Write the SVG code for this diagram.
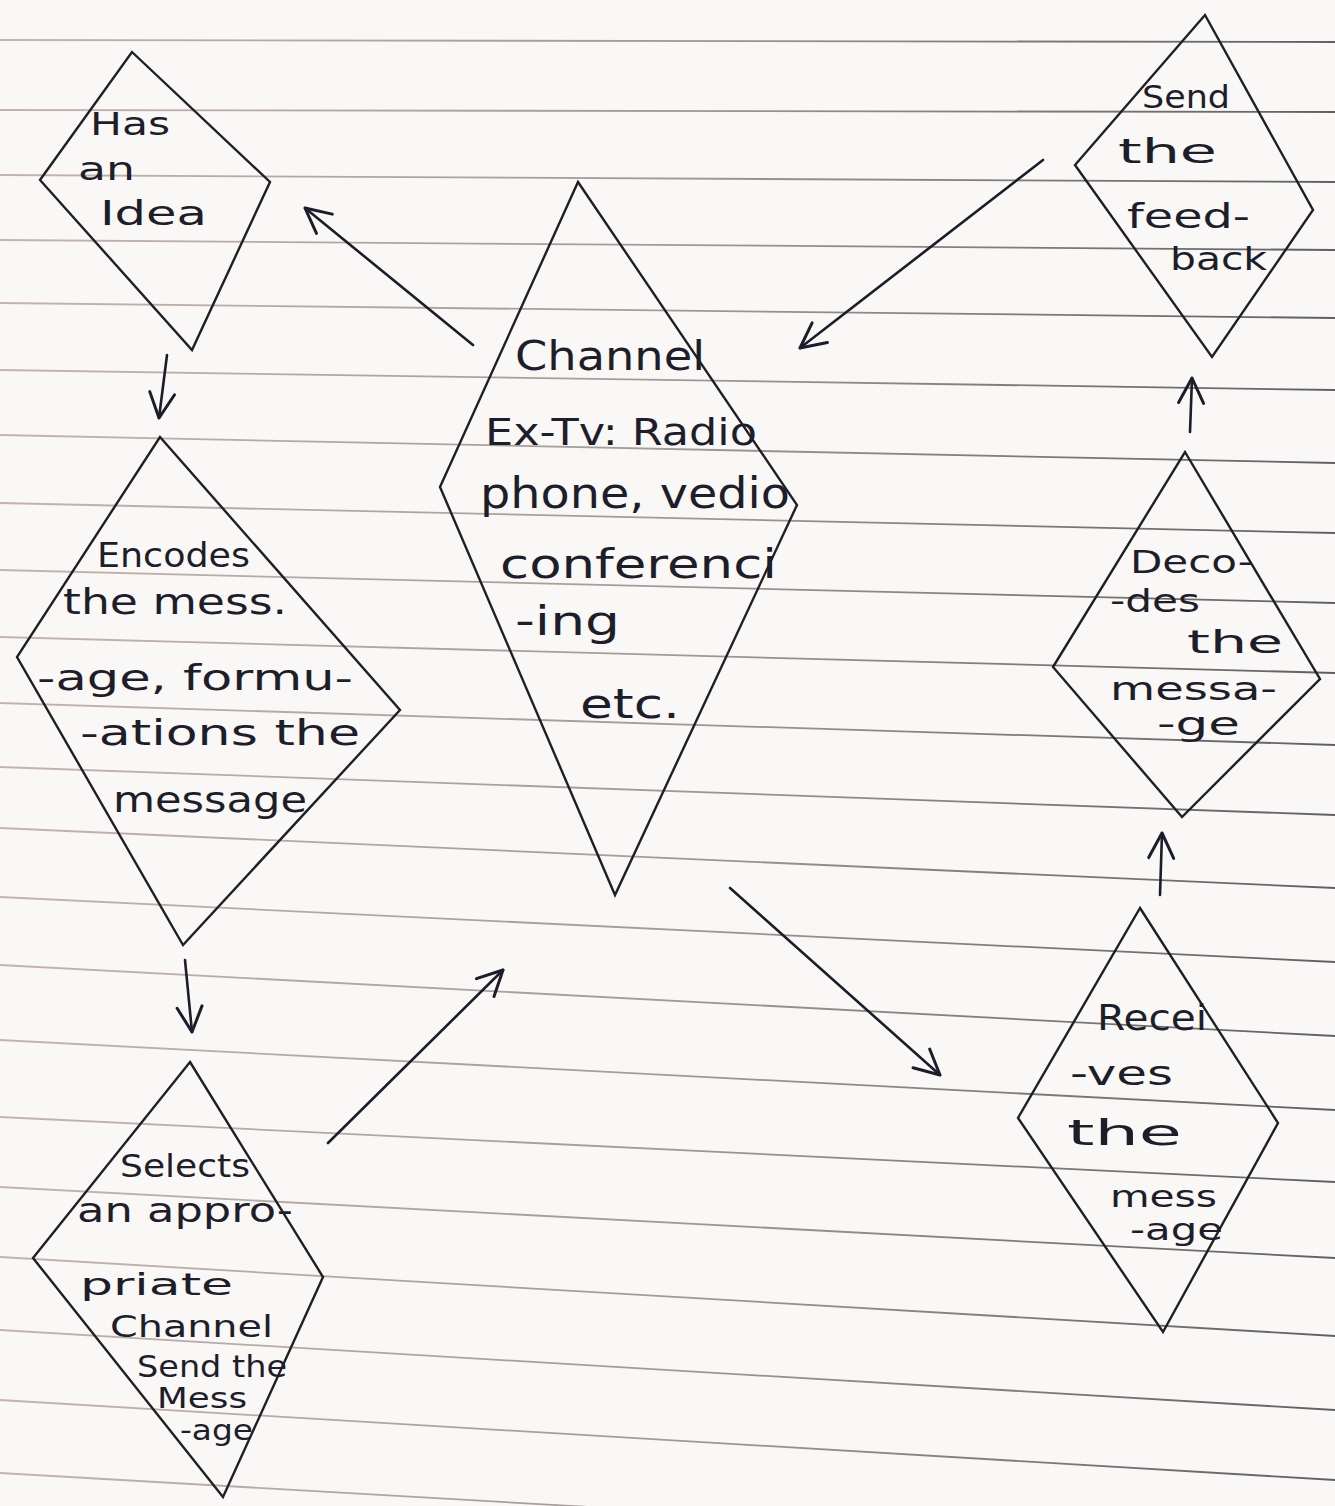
<svg xmlns="http://www.w3.org/2000/svg" width="1335" height="1506" viewBox="0 0 1335 1506">
<defs>
<linearGradient id="rg" gradientUnits="userSpaceOnUse" x1="0" y1="0" x2="1335" y2="0">
<stop offset="0" stop-color="#b9a39c"/>
<stop offset="0.5" stop-color="#8c8480"/>
<stop offset="1" stop-color="#3a3a3e"/>
</linearGradient>
<marker id="ah" viewBox="0 0 12 12" refX="11" refY="6" markerWidth="30" markerHeight="30" markerUnits="userSpaceOnUse" orient="auto">
<path d="M1,1 L11,6 L1,11" fill="none" stroke="#1c1c2a" stroke-width="1.2" stroke-linecap="round" stroke-linejoin="round"/>
</marker>
<style>
.rule{stroke:url(#rg);stroke-width:1.8;opacity:0.8}
.node polygon{fill:none;stroke:#1f1f25;stroke-width:2.4;stroke-linejoin:miter}
.node text{font-family:"DejaVu Sans","Liberation Sans",sans-serif;fill:#1e1e2a}
.conn path{fill:none;stroke:#1c1c2a;stroke-width:2.6;stroke-linecap:round;marker-end:url(#ah)}
</style>
</defs>
<rect width="1335" height="1506" fill="#f9f8f6"/>
<g id="paper">
<line class="rule" x1="0" y1="40" x2="1335" y2="42"/>
<line class="rule" x1="0" y1="110" x2="1335" y2="112"/>
<line class="rule" x1="0" y1="175" x2="1335" y2="182"/>
<line class="rule" x1="0" y1="240" x2="1335" y2="250"/>
<line class="rule" x1="0" y1="303" x2="1335" y2="318"/>
<line class="rule" x1="0" y1="370" x2="1335" y2="390"/>
<line class="rule" x1="0" y1="435" x2="1335" y2="463"/>
<line class="rule" x1="0" y1="503" x2="1335" y2="533"/>
<line class="rule" x1="0" y1="570" x2="1335" y2="603"/>
<line class="rule" x1="0" y1="637" x2="1335" y2="673"/>
<line class="rule" x1="0" y1="703" x2="1335" y2="745"/>
<line class="rule" x1="0" y1="767" x2="1335" y2="815"/>
<line class="rule" x1="0" y1="828" x2="1335" y2="888"/>
<line class="rule" x1="0" y1="897" x2="1335" y2="962"/>
<line class="rule" x1="0" y1="965" x2="1335" y2="1036"/>
<line class="rule" x1="0" y1="1040" x2="1335" y2="1110"/>
<line class="rule" x1="0" y1="1117" x2="1335" y2="1182"/>
<line class="rule" x1="0" y1="1187" x2="1335" y2="1258"/>
<line class="rule" x1="0" y1="1257" x2="1335" y2="1336"/>
<line class="rule" x1="0" y1="1330" x2="1335" y2="1410"/>
<line class="rule" x1="0" y1="1400" x2="1335" y2="1480"/>
<line class="rule" x1="0" y1="1473" x2="1335" y2="1550"/>
</g>
<g id="connectors" class="conn">
<path d="M473,345 L305,208"/>
<path d="M167,355 L159,418"/>
<path d="M185,960 L192,1032"/>
<path d="M328,1143 L503,970"/>
<path d="M730,888 L940,1075"/>
<path d="M1160,895 L1162,833"/>
<path d="M1190,432 L1192,378"/>
<path d="M1043,160 L800,348"/>
</g>
<g id="node-idea" class="node">
<polygon points="132,52 270,182 192,350 40,180"/>
<text x="90" y="135" font-size="32" textLength="80" lengthAdjust="spacingAndGlyphs">Has</text>
<text x="78" y="180" font-size="32" textLength="57" lengthAdjust="spacingAndGlyphs">an</text>
<text x="100" y="225" font-size="34" textLength="107" lengthAdjust="spacingAndGlyphs">Idea</text>
</g>
<g id="node-encodes" class="node">
<polygon points="160,437 400,710 183,945 17,657"/>
<text x="97" y="567" font-size="34" textLength="153" lengthAdjust="spacingAndGlyphs">Encodes</text>
<text x="63" y="614" font-size="36" textLength="224" lengthAdjust="spacingAndGlyphs">the mess.</text>
<text x="37" y="690" font-size="36" textLength="316" lengthAdjust="spacingAndGlyphs">-age, formu-</text>
<text x="80" y="745" font-size="36" textLength="280" lengthAdjust="spacingAndGlyphs">-ations the</text>
<text x="113" y="812" font-size="36" textLength="194" lengthAdjust="spacingAndGlyphs">message</text>
</g>
<g id="node-selects" class="node">
<polygon points="190,1062 323,1277 223,1497 33,1258"/>
<text x="120" y="1177" font-size="32" textLength="130" lengthAdjust="spacingAndGlyphs">Selects</text>
<text x="77" y="1222" font-size="34" textLength="216" lengthAdjust="spacingAndGlyphs">an appro-</text>
<text x="80" y="1295" font-size="30" textLength="153" lengthAdjust="spacingAndGlyphs">priate</text>
<text x="110" y="1337" font-size="30" textLength="163" lengthAdjust="spacingAndGlyphs">Channel</text>
<text x="137" y="1377" font-size="30" textLength="150" lengthAdjust="spacingAndGlyphs">Send the</text>
<text x="157" y="1408" font-size="28" textLength="90" lengthAdjust="spacingAndGlyphs">Mess</text>
<text x="180" y="1440" font-size="28" textLength="73" lengthAdjust="spacingAndGlyphs">-age</text>
</g>
<g id="node-channel" class="node">
<polygon points="578,182 797,505 615,895 440,487"/>
<text x="515" y="370" font-size="40" textLength="190" lengthAdjust="spacingAndGlyphs">Channel</text>
<text x="485" y="445" font-size="38" textLength="272" lengthAdjust="spacingAndGlyphs">Ex-Tv: Radio</text>
<text x="480" y="508" font-size="42" textLength="310" lengthAdjust="spacingAndGlyphs">phone, vedio</text>
<text x="500" y="578" font-size="40" textLength="277" lengthAdjust="spacingAndGlyphs">conferenci</text>
<text x="515" y="635" font-size="40" textLength="105" lengthAdjust="spacingAndGlyphs">-ing</text>
<text x="580" y="718" font-size="40" textLength="100" lengthAdjust="spacingAndGlyphs">etc.</text>
</g>
<g id="node-feedback" class="node">
<polygon points="1205,15 1313,210 1212,357 1075,165"/>
<text x="1142" y="108" font-size="32" textLength="88" lengthAdjust="spacingAndGlyphs">Send</text>
<text x="1118" y="163" font-size="34" textLength="99" lengthAdjust="spacingAndGlyphs">the</text>
<text x="1127" y="228" font-size="34" textLength="123" lengthAdjust="spacingAndGlyphs">feed-</text>
<text x="1170" y="270" font-size="32" textLength="97" lengthAdjust="spacingAndGlyphs">back</text>
</g>
<g id="node-decodes" class="node">
<polygon points="1185,452 1320,679 1182,817 1053,667"/>
<text x="1130" y="573" font-size="32" textLength="123" lengthAdjust="spacingAndGlyphs">Deco-</text>
<text x="1110" y="612" font-size="32" textLength="90" lengthAdjust="spacingAndGlyphs">-des</text>
<text x="1187" y="653" font-size="32" textLength="96" lengthAdjust="spacingAndGlyphs">the</text>
<text x="1110" y="700" font-size="32" textLength="167" lengthAdjust="spacingAndGlyphs">messa-</text>
<text x="1157" y="735" font-size="32" textLength="83" lengthAdjust="spacingAndGlyphs">-ge</text>
</g>
<g id="node-receives" class="node">
<polygon points="1140,908 1278,1123 1163,1332 1018,1118"/>
<text x="1097" y="1030" font-size="36" textLength="110" lengthAdjust="spacingAndGlyphs">Recei</text>
<text x="1070" y="1085" font-size="34" textLength="103" lengthAdjust="spacingAndGlyphs">-ves</text>
<text x="1067" y="1145" font-size="36" textLength="115" lengthAdjust="spacingAndGlyphs">the</text>
<text x="1110" y="1207" font-size="30" textLength="107" lengthAdjust="spacingAndGlyphs">mess</text>
<text x="1130" y="1240" font-size="30" textLength="93" lengthAdjust="spacingAndGlyphs">-age</text>
</g>
</svg>
